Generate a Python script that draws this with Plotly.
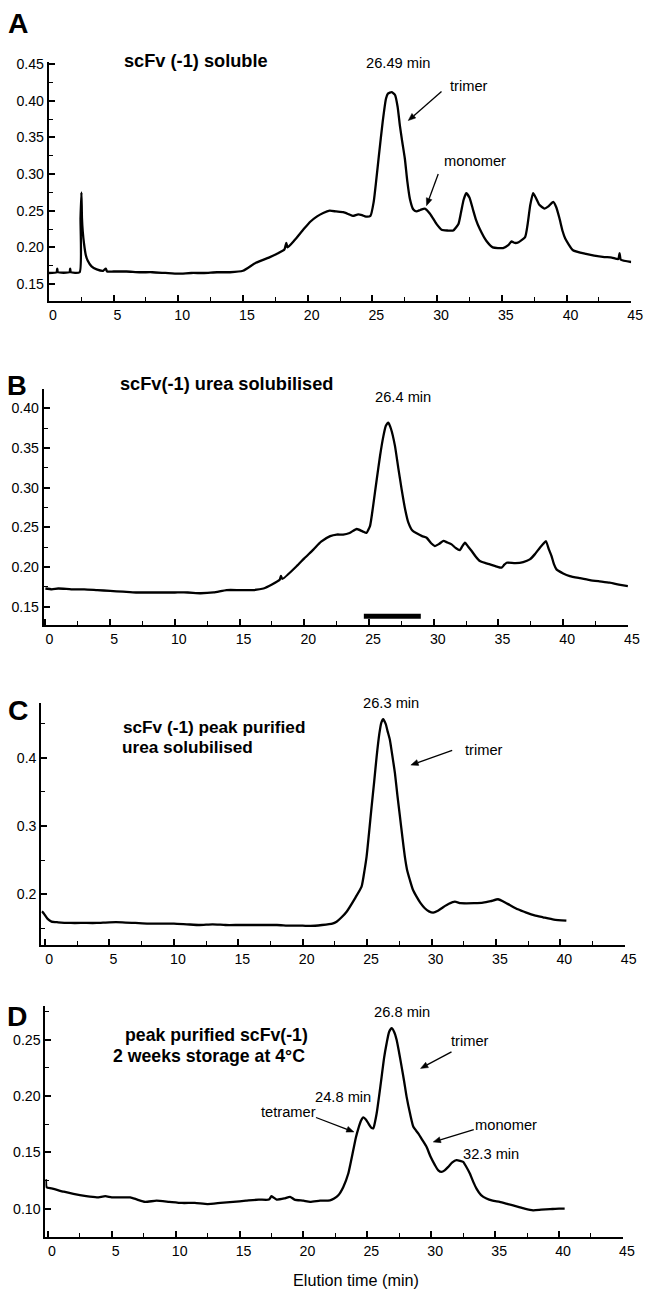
import math
import plotly.graph_objects as go

W, H = 648, 1289
# measured mapping from figure pixels to the photographed picture:
# picture_x = OX + SX * figure_x ; picture_y = OY + SY * figure_y
SX, OX = 0.983, 2.8
SY, OY = 0.994, 7.3
FS = 1 / 0.988  # font compensation

# ---------------- data ----------------
# Panel A: scFv (-1) soluble
A_time = [0, 0.6, 0.65, 0.7, 1.6, 1.65, 1.7, 2.38, 2.45, 2.52, 2.56, 2.62, 2.72, 2.85, 3.0, 3.3, 3.7,
          4.2, 4.4, 4.5, 5, 6, 7, 8, 9, 10, 11, 12, 13, 14, 15, 16, 17, 17.6, 18.2, 18.35, 18.45,
          19.0, 19.7, 20.2, 20.7, 21.2, 21.7, 22.2, 22.75, 23.2, 23.5, 23.9, 24.2, 24.5, 24.85,
          25.1, 25.3, 25.5, 25.8, 26.05, 26.2, 26.5, 26.75, 26.95, 27.12, 27.3, 27.51, 27.7, 27.9,
          28.15, 28.4, 28.7, 29.05, 29.45, 29.95, 30.35, 30.8, 31.25, 31.65, 31.85, 32.05, 32.25,
          32.5, 32.75, 33.0, 33.3, 33.8, 34.3, 35.1, 35.5, 35.75, 36.0, 36.3, 36.8, 37.0, 37.2,
          37.42, 37.65, 37.9, 38.3, 38.6, 38.97, 39.2, 39.45, 39.7, 39.9, 40.5, 41.5, 42.8, 43.5,
          44.0, 44.1, 44.2, 45.0]
A_abs = [0.165, 0.166, 0.171, 0.166, 0.166, 0.171, 0.166, 0.166, 0.240, 0.275, 0.240, 0.222, 0.205,
         0.190, 0.182, 0.174, 0.170, 0.168, 0.171, 0.167, 0.167, 0.167, 0.166, 0.166, 0.165, 0.164,
         0.165, 0.165, 0.166, 0.166, 0.168, 0.179, 0.186, 0.191, 0.197, 0.206, 0.200, 0.210, 0.225,
         0.235, 0.242, 0.247, 0.250, 0.249, 0.248, 0.245, 0.243, 0.245, 0.244, 0.242, 0.243, 0.262,
         0.292, 0.325, 0.372, 0.403, 0.410, 0.412, 0.408, 0.392, 0.367, 0.345, 0.321, 0.290, 0.266,
         0.252, 0.249, 0.251, 0.253, 0.246, 0.232, 0.224, 0.223, 0.223, 0.232, 0.248, 0.265, 0.274,
         0.268, 0.253, 0.238, 0.225, 0.209, 0.200, 0.199, 0.203, 0.208, 0.206, 0.207, 0.214, 0.232,
         0.258, 0.274, 0.267, 0.258, 0.253, 0.256, 0.262, 0.255, 0.240, 0.222, 0.212, 0.196, 0.191,
         0.187, 0.186, 0.184, 0.192, 0.183, 0.180]

# Panel B: scFv(-1) urea solubilised
B_time = [0, 0.5, 1, 2, 3, 4, 5, 6, 7, 8, 9, 10, 11, 12, 13, 14, 15, 16, 16.85, 17.5, 18.1, 18.2,
          18.3, 19.4, 20.0, 20.7, 21.3, 22.0, 22.5, 23.0, 23.5, 24.05, 24.5, 24.8, 25.08, 25.3,
          25.6, 25.85, 26.11, 26.3, 26.49, 26.7, 27.0, 27.25, 27.52, 27.8, 28.04, 28.35, 28.68,
          29.1, 29.45, 29.8, 30.09, 30.4, 30.74, 31.05, 31.38, 31.7, 32.02, 32.2, 32.41, 32.65,
          32.93, 33.25, 33.56, 34.0, 34.34, 34.8, 35.24, 35.45, 35.63, 36.3, 36.91, 37.42, 37.8,
          38.2, 38.45, 38.66, 38.9, 39.1, 39.3, 39.48, 40.0, 40.51, 41.3, 42.06, 42.8, 43.6, 44.3,
          45.0]
B_abs = [0.173, 0.172, 0.173, 0.172, 0.172, 0.171, 0.170, 0.169, 0.168, 0.168, 0.168, 0.168, 0.168,
         0.167, 0.168, 0.171, 0.171, 0.171, 0.173, 0.178, 0.184, 0.189, 0.185, 0.201, 0.211, 0.222,
         0.232, 0.239, 0.241, 0.241, 0.243, 0.248, 0.245, 0.243, 0.252, 0.275, 0.311, 0.340, 0.365,
         0.378, 0.382, 0.374, 0.353, 0.326, 0.298, 0.272, 0.256, 0.246, 0.2425, 0.239, 0.237, 0.230,
         0.2265, 0.229, 0.233, 0.231, 0.2286, 0.224, 0.2215, 0.226, 0.2307, 0.226, 0.2202, 0.213,
         0.2076, 0.205, 0.2034, 0.201, 0.1992, 0.203, 0.2055, 0.205, 0.2063, 0.2097, 0.216, 0.2245,
         0.229, 0.2328, 0.222, 0.2139, 0.203, 0.1971, 0.192, 0.1887, 0.186, 0.1836, 0.182, 0.1803,
         0.178, 0.176]
B_bar_time = [24.6, 29.0]
B_bar_abs = [0.138, 0.138]

# Panel C: scFv (-1) peak purified, urea solubilised
C_time = [-0.25, -0.1, 0.2, 0.5, 1, 2, 3, 4, 5, 6, 7, 8, 9, 10, 11, 12, 13, 14, 15, 16, 17, 18, 19,
          20, 20.6, 21.5, 22.3, 22.63, 23.0, 23.41, 24.06, 24.57, 24.8, 24.96, 25.15, 25.35, 25.55,
          25.74, 25.95, 26.1, 26.25, 26.45, 26.6, 26.77, 26.95, 27.16, 27.35, 27.55, 27.75, 27.93,
          28.1, 28.32, 28.55, 28.84, 29.15, 29.48, 29.8, 30.13, 30.5, 30.9, 31.35, 31.81, 32.25,
          32.71, 33.3, 34.0, 34.6, 35.17, 35.6, 36.07, 36.7, 37.36, 38.0, 38.66, 39.5, 40.47]
C_abs = [0.175, 0.172, 0.164, 0.160, 0.159, 0.158, 0.158, 0.158, 0.159, 0.159, 0.158, 0.157, 0.157,
         0.157, 0.156, 0.155, 0.156, 0.155, 0.155, 0.155, 0.155, 0.155, 0.154, 0.154, 0.1536, 0.155,
         0.157, 0.1599, 0.166, 0.1745, 0.1941, 0.2111, 0.235, 0.255, 0.290, 0.3283, 0.365, 0.4015,
         0.435, 0.451, 0.4562, 0.449, 0.438, 0.4259, 0.404, 0.3772, 0.345, 0.3136, 0.282, 0.255,
         0.236, 0.2209, 0.207, 0.1965, 0.187, 0.1795, 0.175, 0.1731, 0.176, 0.181, 0.186, 0.1892,
         0.187, 0.1868, 0.187, 0.1878, 0.190, 0.1927, 0.189, 0.1843, 0.178, 0.1731, 0.169, 0.1663,
         0.163, 0.1614]

# Panel D: peak purified scFv(-1), 2 weeks storage at 4 oC
D_time = [-0.15, -0.1, 0.3, 1.25, 2, 3, 3.85, 4.5, 5, 6, 6.45, 7, 7.6, 8.5, 9.5, 10.5, 11.5, 12.5,
          13.5, 14.5, 15.5, 16.5, 17.3, 17.5, 17.9, 18.5, 18.95, 19.3, 20.0, 20.52, 21.3, 22.08,
          22.4, 22.73, 23.12, 23.51, 23.9, 24.1, 24.3, 24.5, 24.69, 24.9, 25.08, 25.3, 25.47, 25.6,
          25.73, 25.92, 26.12, 26.31, 26.51, 26.7, 26.9, 27.1, 27.29, 27.48, 27.68, 27.88, 28.07,
          28.35, 28.6, 28.98, 29.3, 29.63, 29.95, 30.29, 30.55, 30.81, 31.05, 31.33, 31.65, 31.98,
          32.25, 32.5, 32.75, 33.02, 33.28, 33.54, 33.9, 34.32, 34.8, 35.36, 36.0, 36.67, 37.3,
          37.97, 38.6, 39.3, 40.0, 40.44]
D_abs = [0.126, 0.119, 0.118, 0.115, 0.113, 0.111, 0.110, 0.111, 0.110, 0.110, 0.110, 0.108, 0.106,
         0.107, 0.106, 0.105, 0.105, 0.104, 0.105, 0.106, 0.107, 0.108, 0.108, 0.111, 0.108, 0.109,
         0.1105, 0.108, 0.107, 0.1059, 0.107, 0.1074, 0.109, 0.1119, 0.1193, 0.1312, 0.152, 0.163,
         0.1713, 0.178, 0.1811, 0.179, 0.1757, 0.172, 0.1713, 0.177, 0.1847, 0.200, 0.2173, 0.234,
         0.247, 0.257, 0.2604, 0.257, 0.250, 0.239, 0.2262, 0.213, 0.1995, 0.184, 0.1727, 0.1668,
         0.161, 0.1549, 0.146, 0.1386, 0.134, 0.1326, 0.134, 0.1371, 0.141, 0.143, 0.1425, 0.1416,
         0.137, 0.1312, 0.124, 0.1178, 0.112, 0.1089, 0.107, 0.1059, 0.104, 0.102, 0.100, 0.0985,
         0.099, 0.0995, 0.100, 0.100]

x_ticks = [0, 5, 10, 15, 20, 25, 30, 35, 40, 45]

# ---------------- figure ----------------
FONT = "Arial, 'Liberation Sans', Helvetica, sans-serif"


def fx(x):  # reference picture x -> figure pixel x
    return (x - OX) / SX


def fy(y):  # reference picture y -> figure pixel y
    return (y - OY) / SY


def px(x):
    return fx(x) / W


def py(y):
    return 1 - fy(y) / H


def fs(s):
    return round(s * FS, 2)


fig = go.Figure()

panels = [
    # (time, abs, x-domain px, y-domain px (top,bottom), xrange, yrange, dtick, minor, fmt)
    (A_time, A_abs, (51.7, 635.0), (63.3, 301.7), [0, 45], [0.127, 0.453], 0.05, 0.025, ".2f"),
    (B_time, B_abs, (46.7, 631.7), (389.3, 625.0), [-0.12, 45], [0.1276, 0.425], 0.05, 0.025, ".2f"),
    (C_time, C_abs, (44.2, 628.5), (703.3, 945.0), [-0.29, 45], [0.1258, 0.48], 0.1, 0.05, ".1f"),
    (D_time, D_abs, (48.3, 626.7), (1006.0, 1236.7), [-0.19, 45], [0.0747, 0.280], 0.05, 0.025, ".2f"),
]

layout = {}
for i, (t, a, xd, yd, xr, yr, dt, mdt, fmt) in enumerate(panels, start=1):
    sfx = "" if i == 1 else str(i)
    fig.add_trace(go.Scatter(x=t, y=a, mode="lines", xaxis="x" + sfx, yaxis="y" + sfx,
                             line=dict(color="black", width=2.3, shape="spline", smoothing=0.5),
                             showlegend=False, hoverinfo="skip"))
    layout["xaxis" + sfx] = dict(
        domain=[px(xd[0]), px(xd[1])], range=xr, anchor="y" + sfx,
        tickmode="array", tickvals=x_ticks, ticks="inside", ticklen=6, tickwidth=1.5,
        tickcolor="black", showline=True, linewidth=2, linecolor="black",
        showgrid=False, zeroline=False, ticklabelshift=4,
        tickfont=dict(family=FONT, size=fs(14), color="black"),
        minor=dict(dtick=2.5, tick0=0, ticks="inside", ticklen=4, tickwidth=1.2, tickcolor="black"),
    )
    layout["yaxis" + sfx] = dict(
        domain=[py(yd[1]), py(yd[0])], range=yr, anchor="x" + sfx,
        tick0=0, dtick=dt, tickformat=fmt, ticks="inside", ticklen=6, tickwidth=1.5,
        tickcolor="black", showline=True, linewidth=2, linecolor="black",
        showgrid=False, zeroline=False,
        tickfont=dict(family=FONT, size=fs(14), color="black"),
        minor=dict(dtick=mdt, tick0=0, ticks="inside", ticklen=4, tickwidth=1.2, tickcolor="black"),
    )

# horizontal bar under peak in panel B
fig.add_trace(go.Scatter(x=B_bar_time, y=B_bar_abs, mode="lines", xaxis="x2", yaxis="y2",
                         line=dict(color="black", width=5), showlegend=False, hoverinfo="skip"))

annotations = []
shapes = []


def text(s, x, y, size=14.5, bold=False, xanchor="center"):
    annotations.append(dict(
        text=("<b>%s</b>" % s) if bold else s, x=px(x), y=py(y), xref="paper", yref="paper",
        xanchor=xanchor, yanchor="middle", showarrow=False,
        font=dict(family=FONT, size=fs(size), color="black")))


def arrow(tail, head, L=7.5, hw=3.0):
    t = (fx(tail[0]), fy(tail[1]))
    h = (fx(head[0]), fy(head[1]))
    dx, dy = h[0] - t[0], h[1] - t[1]
    n = math.hypot(dx, dy)
    ux, uy = dx / n, dy / n
    bx, by = h[0] - L * ux, h[1] - L * uy
    nx, ny = -uy, ux
    shapes.append(dict(type="line", xref="paper", yref="paper",
                       x0=t[0] / W, y0=1 - t[1] / H, x1=bx / W, y1=1 - by / H,
                       line=dict(color="black", width=1.3)))
    pts = [h, (bx + hw * nx, by + hw * ny), (bx - hw * nx, by - hw * ny)]
    path = "M " + " L ".join("%.5f %.5f" % (x / W, 1 - y / H) for x, y in pts) + " Z"
    shapes.append(dict(type="path", xref="paper", yref="paper", path=path,
                       fillcolor="black", line=dict(color="black", width=0.5)))


# Panel A
text("A", 21, 24, size=28, bold=True)
text("scFv (-1) soluble", 199.5, 62.5, size=18, bold=True)
text("26.49 min", 401, 64.5)
text("trimer", 472.5, 87)
arrow((445, 92.7), (411.7, 121.7))
text("monomer", 479, 162)
arrow((441.7, 175), (430, 206.7))

# Panel B
text("B", 19.5, 386, size=27, bold=True)
text("scFv(-1) urea solubilised", 229.5, 384.5, size=18, bold=True)
text("26.4 min", 406.7, 398)

# Panel C
text("C", 21, 710, size=28, bold=True)
text("scFv (-1) peak purified", 124, 727, size=17, bold=True, xanchor="left")
text("urea solubilised", 123, 747, size=17, bold=True, xanchor="left")
text("26.3 min", 394.7, 703.5)
text("trimer", 487.5, 750.5)
arrow((455.7, 750.7), (414.3, 765.3))

# Panel D
text("D", 19.5, 1015.5, size=28, bold=True)
text("peak purified scFv(-1)", 219.6, 1034.5, size=17.5, bold=True)
text("2 weeks storage at 4°C", 212.4, 1055.5, size=17.5, bold=True)
text("26.8 min", 405.8, 1011.5)
text("trimer", 474, 1040.5)
arrow((455, 1051.7), (424, 1068.3))
text("24.8 min", 346.7, 1097)
text("tetramer", 291.7, 1112)
arrow((319.3, 1117.3), (357.3, 1131.7))
text("monomer", 509.2, 1124.5)
arrow((477.3, 1129.3), (436.7, 1141.7))
text("32.3 min", 494.7, 1154)

text("Elution time (min)", 359.5, 1279.5, size=16)

fig.update_layout(
    width=W, height=H, autosize=False,
    margin=dict(l=0, r=0, t=0, b=0, pad=0),
    paper_bgcolor="white", plot_bgcolor="white",
    font=dict(family=FONT, color="black"),
    annotations=annotations, shapes=shapes,
    **layout,
)

fig.write_html(
    "out.html",
    config={"displayModeBar": False},
    post_script="document.body.style.margin='0';document.documentElement.style.overflow='hidden';",
)
